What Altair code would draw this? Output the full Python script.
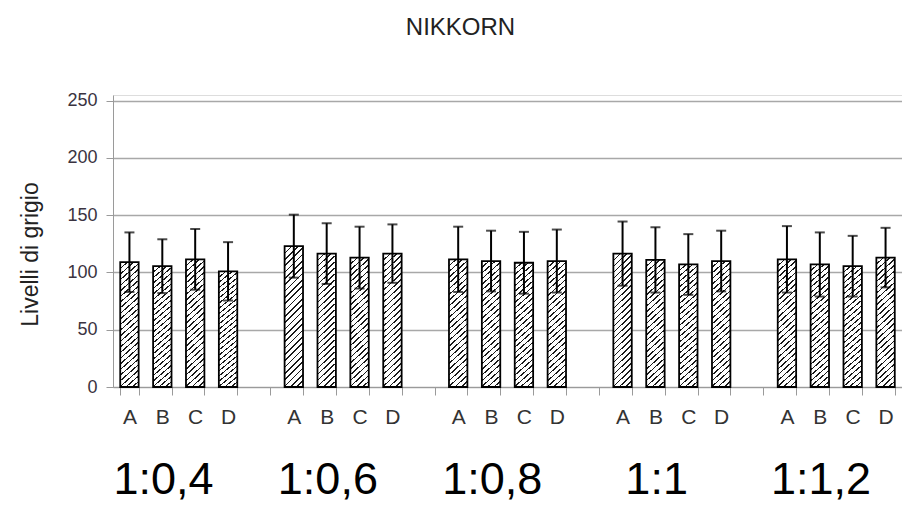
import altair as alt
import pandas as pd

# Ratios (groups), samples within each group, mean grey levels and their errors
groups = ["1:0,4", "1:0,6", "1:0,8", "1:1", "1:1,2"]
letters = ["A", "B", "C", "D"]
means = [
    [109, 105.5, 111.5, 101],
    [123, 116.5, 113, 116.5],
    [111.5, 110, 108.5, 110],
    [116.5, 111, 107, 110],
    [111.5, 107, 105.5, 113],
]
errors = [
    [26, 23.5, 26.5, 25.5],
    [27.5, 26.5, 27, 25.5],
    [28.5, 26.5, 27, 27.5],
    [28, 28.5, 26.5, 26.5],
    [29, 28, 26.5, 26],
]
y_ticks = [0, 50, 100, 150, 200, 250]

FONT = "Liberation Sans"

# Category keys "group|letter"; an empty slot "group|" separates the groups
domain = []
for gi, g in enumerate(groups):
    domain += [f"{g}|{l}" for l in letters]
    if gi < len(groups) - 1:
        domain.append(f"{g}|")

rows = []
for gi, g in enumerate(groups):
    for li, l in enumerate(letters):
        m, e = means[gi][li], errors[gi][li]
        rows.append({"key": f"{g}|{l}", "group": g, "letter": l,
                     "mean": m, "lo": m - e, "hi": m + e})
df = pd.DataFrame(rows)
labels_df = pd.DataFrame({"group": groups, "key": [f"{g}|B" for g in groups]})

# Diagonal "////" hatching built as a striped linear gradient
n_stripes = 26
line_frac = 0.26
stops = []
for i in range(n_stripes):
    t0 = i / n_stripes
    t1 = (i + line_frac) / n_stripes
    t2 = (i + 1) / n_stripes
    stops += [
        alt.GradientStop(offset=t0, color="#ffffff"),
        alt.GradientStop(offset=t0, color="#1a1a1a"),
        alt.GradientStop(offset=t1, color="#1a1a1a"),
        alt.GradientStop(offset=t1, color="#ffffff"),
        alt.GradientStop(offset=t2, color="#ffffff"),
    ]
hatch = alt.LinearGradient(gradient="linear", stops=stops,
                           x1=0, y1=0, x2=0.15, y2=1.15)

x_enc = alt.X(
    "key:N",
    scale=alt.Scale(domain=domain, paddingInner=0.44, paddingOuter=0.22),
    axis=alt.Axis(
        title=None,
        tickBand="extent",
        labelExpr="split(datum.label, '|')[1]",
        labelAngle=0,
        labelFont=FONT,
        labelFontSize=21,
        labelColor="#333333",
        labelPadding=11,
        tickSize=8,
        tickColor="#9a9a9a",
        domainColor="#9a9a9a",
        grid=False,
    ),
)
y_scale = alt.Scale(domain=[0, 255], nice=False)
y_enc = alt.Y(
    "mean:Q",
    scale=y_scale,
    axis=alt.Axis(
        title="Livelli di grigio",
        values=y_ticks,
        titleFont=FONT,
        titleFontSize=23,
        titleFontWeight="normal",
        titleColor="#222222",
        titleAngle=270,
        titleAlign="center",
        titleBaseline="middle",
        titleX=-83,
        titleY=159,
        labelFont=FONT,
        labelFontSize=18,
        labelColor="#3a3340",
        labelPadding=9,
        tickSize=7,
        tickColor="#9a9a9a",
        domainColor="#9a9a9a",
        gridColor="#a8a8a8",
        gridWidth=1.3,
    ),
)

base = alt.Chart(df)

bars = base.mark_bar(fill=hatch, stroke="#000000", strokeWidth=1.8).encode(
    x=x_enc, y=y_enc
)
err = base.mark_rule(color="#000000", strokeWidth=2).encode(
    x="key:N", y=alt.Y("lo:Q", scale=y_scale), y2="hi:Q"
)
cap_hi = base.mark_tick(color="#000000", thickness=2, size=10).encode(
    x="key:N", y=alt.Y("hi:Q", scale=y_scale)
)
cap_lo = base.mark_tick(color="#000000", thickness=2, size=10).encode(
    x="key:N", y=alt.Y("lo:Q", scale=y_scale)
)
group_text = alt.Chart(labels_df).mark_text(
    font=FONT, fontSize=45, color="#000000", align="center",
    baseline="alphabetic", dx=-8
).encode(
    x=alt.X("key:N", bandPosition=1),
    y=alt.value(399),
    text="group:N",
)

chart = (
    alt.layer(bars, err, cap_lo, cap_hi, group_text)
    .properties(
        width=789,
        height=292,
        autosize=alt.AutoSizeParams(type="none"),
        padding={"left": 113, "top": 95, "right": 0, "bottom": 118},
        title=alt.TitleParams(
            "NIKKORN",
            font=FONT,
            fontSize=24,
            fontWeight="normal",
            color="#222222",
            anchor="middle",
            dx=-47,
            offset=33,
            baseline="alphabetic",
        ),
    )
    .configure_view(stroke="#9a9a9a", strokeWidth=1.3)
    .configure(background="#ffffff")
)

chart.save("out.html", embed_options={"renderer": "svg", "actions": False})
